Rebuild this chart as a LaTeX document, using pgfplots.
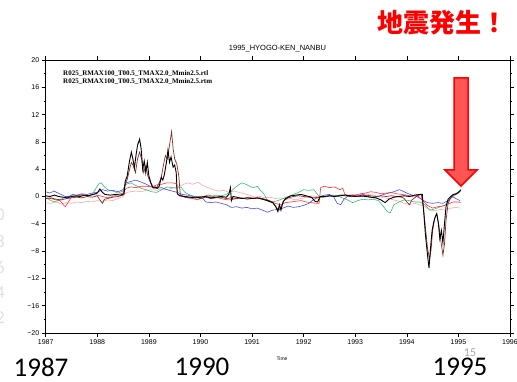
\documentclass[border=0pt]{standalone}
\usepackage{pgfplots}
\pgfplotsset{compat=1.18}
\usepackage{fontspec}
\setmainfont{Liberation Sans}
\newfontfamily\serifb{Liberation Serif}
\newfontfamily\calfont{Carlito}
\newfontfamily\cjk{Noto Sans CJK JP}
\definecolor{myblue}{RGB}{70,70,255}
\definecolor{mygreen}{RGB}{50,190,120}
\definecolor{myred}{RGB}{255,50,50}
\definecolor{mypink}{RGB}{255,165,165}
\definecolor{mybrown}{RGB}{140,45,35}
\definecolor{arrowfill}{RGB}{255,85,85}
\begin{document}
\begin{tikzpicture}
\path[use as bounding box] (0,0) rectangle (517pt,382pt);
\begin{axis}[
  at={(45.7pt,49pt)}, anchor=south west,
  scale only axis, width=464.3pt, height=273pt,
  xmin=1987, xmax=1996, ymin=-20, ymax=20,
  xtick={1987,1988,...,1996}, minor x tick num=1,
  ytick={-20,-16,...,20}, minor y tick num=1,
  tick align=outside,
  major tick length=4pt, minor tick length=2pt,
  axis line style={line width=0.9pt},
  every tick/.style={black, line width=0.6pt},
  /pgf/number format/assume math mode=true,
  xticklabel style={font=\fontsize{7}{8}\selectfont, yshift=1pt},
  yticklabel style={font=\fontsize{7}{8}\selectfont, xshift=1pt},
  xticklabel={\pgfmathprintnumber[1000 sep=,fixed]{\tick}},
  yticklabel={\ifdim\tick pt<0pt \char"2212\pgfmathparse{abs(\tick)}\pgfmathprintnumber{\pgfmathresult}\else\pgfmathprintnumber{\tick}\fi},
]
% pink
\addplot[mypink, line width=0.6pt] coordinates {
(1987.00,-0.9)(1987.10,-1.0)(1987.20,-0.8)(1987.30,-1.1)(1987.40,-0.9)(1987.50,-1.0)(1987.60,-0.8)(1987.70,-0.9)(1987.80,-0.7)(1987.90,-0.8)
(1988.00,-0.6)(1988.10,-0.7)(1988.20,-0.5)(1988.30,-0.6)(1988.40,-0.3)(1988.50,0.0)(1988.56,0.6)(1988.65,0.7)(1988.75,0.8)(1988.85,0.7)
(1988.95,0.9)(1989.05,1.0)(1989.15,0.9)(1989.25,1.1)(1989.35,1.0)(1989.45,1.2)(1989.55,1.4)(1989.65,1.7)(1989.75,2.0)(1989.85,1.8)
(1989.95,2.1)(1990.05,1.6)(1990.15,1.3)(1990.25,1.0)(1990.35,0.8)(1990.45,0.9)(1990.55,0.6)(1990.65,0.8)(1990.75,0.6)(1990.85,0.4)
(1990.95,0.2)(1991.05,-0.1)(1991.15,0.0)(1991.25,-0.2)(1991.35,-0.1)(1991.45,-0.3)(1991.55,-0.2)(1991.65,-0.4)(1991.75,-0.3)(1991.85,-0.5)
(1991.95,-0.3)(1992.05,-0.1)(1992.15,0.1)(1992.25,0.0)(1992.35,0.1)(1992.45,0.0)(1992.55,0.2)(1992.65,0.1)(1992.75,0.3)(1992.85,0.2)
(1992.95,0.3)(1993.05,0.2)(1993.15,0.4)(1993.25,0.3)(1993.35,0.2)(1993.45,0.0)(1993.55,-0.2)(1993.65,-0.3)(1993.75,-0.5)(1993.85,-0.7)
(1993.95,-1.0)(1994.05,-1.2)(1994.15,-1.0)(1994.25,-1.2)(1994.35,-1.5)(1994.45,-2.0)(1994.55,-2.1)(1994.65,-1.9)(1994.75,-2.0)(1994.85,-1.7)
(1994.95,-1.6)(1995.04,-1.7)};
% green
\addplot[mygreen, line width=0.6pt] coordinates {
(1987.00,-0.2)(1987.08,-0.5)(1987.16,-0.8)(1987.24,-0.6)(1987.32,-0.3)(1987.40,0.0)(1987.50,0.1)(1987.60,0.0)(1987.70,0.2)(1987.80,0.1)
(1987.90,0.3)(1987.96,1.0)(1988.02,1.8)(1988.08,2.0)(1988.14,1.4)(1988.20,1.0)(1988.30,0.8)(1988.40,0.5)(1988.50,0.8)(1988.56,1.8)
(1988.65,2.0)(1988.75,1.6)(1988.85,1.2)(1988.95,1.0)(1989.05,0.7)(1989.15,0.6)(1989.25,1.0)(1989.35,1.4)(1989.45,1.3)(1989.55,1.2)
(1989.62,1.4)(1989.70,0.6)(1989.80,0.2)(1989.90,0.0)(1990.00,0.0)(1990.10,-0.1)(1990.20,0.0)(1990.30,0.2)(1990.40,0.1)(1990.50,0.3)
(1990.60,0.8)(1990.70,1.5)(1990.80,2.0)(1990.88,1.8)(1990.95,1.5)(1991.02,1.3)(1991.10,1.5)(1991.15,1.0)(1991.22,0.5)(1991.30,-0.6)
(1991.40,-0.8)(1991.50,-0.6)(1991.60,-0.3)(1991.70,0.0)(1991.80,0.3)(1991.90,0.6)(1992.00,1.0)(1992.10,0.9)(1992.20,1.0)(1992.28,0.2)
(1992.35,-0.2)(1992.45,0.0)(1992.55,0.2)(1992.65,0.1)(1992.75,-0.2)(1992.85,-0.5)(1992.95,-0.9)(1993.05,-0.6)(1993.15,-0.4)(1993.25,-0.5)
(1993.35,-0.4)(1993.45,-0.6)(1993.55,-1.5)(1993.62,-2.2)(1993.68,-2.4)(1993.75,-1.2)(1993.85,-0.8)(1993.95,-0.5)(1994.05,-0.6)(1994.15,-0.8)
(1994.25,-0.8)(1994.35,-1.2)(1994.45,-2.0)(1994.55,-1.8)(1994.65,-1.5)(1994.75,-1.2)(1994.82,-0.5)(1994.90,0.0)(1994.97,0.4)(1995.03,0.9)};
% blue
\addplot[myblue, line width=0.6pt] coordinates {
(1987.00,0.7)(1987.08,0.5)(1987.16,0.8)(1987.24,0.5)(1987.30,0.3)(1987.38,0.0)(1987.46,0.0)(1987.52,0.3)(1987.60,0.2)(1987.70,0.4)
(1987.80,0.3)(1987.90,0.5)(1988.00,0.6)(1988.10,1.0)(1988.20,0.8)(1988.30,0.9)(1988.40,0.7)(1988.50,1.0)(1988.56,2.0)(1988.65,2.2)
(1988.75,2.4)(1988.85,2.1)(1988.95,1.8)(1989.05,1.4)(1989.15,1.2)(1989.25,1.3)(1989.35,1.0)(1989.45,0.8)(1989.55,0.6)(1989.65,0.3)
(1989.75,0.2)(1989.85,0.0)(1989.95,-0.1)(1990.05,-0.3)(1990.10,-0.8)(1990.20,-0.9)(1990.30,-0.8)(1990.40,-1.0)(1990.50,-1.2)(1990.60,-1.6)
(1990.70,-1.5)(1990.80,-1.7)(1990.90,-1.6)(1991.00,-1.8)(1991.10,-1.7)(1991.20,-2.0)(1991.30,-2.3)(1991.40,-2.0)(1991.50,-1.9)(1991.60,-1.7)
(1991.70,-1.4)(1991.80,-1.6)(1991.90,-1.5)(1992.00,-1.3)(1992.10,-1.0)(1992.20,-0.4)(1992.30,-0.1)(1992.40,0.2)(1992.50,0.3)(1992.58,0.0)
(1992.65,-1.0)(1992.72,-1.2)(1992.78,-0.4)(1992.85,0.0)(1992.95,0.2)(1993.05,0.0)(1993.15,0.3)(1993.25,0.0)(1993.35,-0.2)(1993.45,0.0)
(1993.55,0.3)(1993.65,0.5)(1993.75,0.7)(1993.85,1.0)(1993.92,0.8)(1994.00,0.5)(1994.10,0.2)(1994.20,0.0)(1994.30,-0.5)(1994.40,-0.9)
(1994.50,-1.0)(1994.60,-0.9)(1994.70,-1.0)(1994.80,-0.6)(1994.88,0.0)(1994.95,-0.3)(1995.03,-0.6)};
% red
\addplot[myred, line width=0.6pt] coordinates {
(1987.00,-0.2)(1987.10,-0.3)(1987.20,-0.5)(1987.28,-0.6)(1987.34,-1.2)(1987.38,-1.5)(1987.44,-0.8)(1987.50,-0.1)(1987.60,0.1)(1987.70,0.3)
(1987.80,0.1)(1987.90,0.3)(1988.00,0.2)(1988.10,0.0)(1988.20,-0.2)(1988.30,0.0)(1988.40,0.3)(1988.50,0.5)(1988.56,1.2)(1988.65,1.4)
(1988.75,1.3)(1988.85,1.5)(1988.95,1.5)(1989.05,1.4)(1989.15,1.7)(1989.25,1.8)(1989.35,2.0)(1989.45,2.0)(1989.53,1.9)(1989.56,0.3)
(1989.65,0.0)(1989.75,-0.2)(1989.85,-0.3)(1989.95,-0.5)(1990.05,0.0)(1990.15,0.2)(1990.25,0.0)(1990.35,-0.2)(1990.45,-0.4)(1990.55,-0.5)
(1990.65,-0.4)(1990.75,-0.2)(1990.85,-0.3)(1990.95,-0.1)(1991.05,-0.3)(1991.15,-0.2)(1991.25,-0.5)(1991.35,-0.8)(1991.45,-1.0)(1991.55,-1.2)
(1991.65,-0.9)(1991.75,-0.8)(1991.85,-0.7)(1991.95,-0.6)(1992.05,-0.8)(1992.15,-0.9)(1992.25,-1.0)(1992.30,-1.0)(1992.33,1.3)(1992.40,1.5)
(1992.50,1.3)(1992.60,1.4)(1992.70,1.0)(1992.76,1.2)(1992.80,0.3)(1992.90,0.1)(1993.00,0.2)(1993.10,0.4)(1993.20,0.5)(1993.30,0.7)
(1993.40,0.6)(1993.50,0.4)(1993.60,0.5)(1993.70,0.6)(1993.80,0.4)(1993.90,0.3)(1994.00,0.2)(1994.10,0.0)(1994.20,0.2)(1994.30,-0.5)
(1994.40,-1.3)(1994.50,-1.7)(1994.60,-1.5)(1994.70,-1.4)(1994.80,-1.1)(1994.90,-0.8)(1995.00,-0.8)(1995.04,-0.9)};
% brown
\addplot[mybrown, line width=0.7pt] coordinates {
(1987.00,-0.3)(1987.10,-0.2)(1987.20,-0.4)(1987.30,-0.5)(1987.40,-0.3)(1987.50,-0.2)(1987.60,-0.1)(1987.70,-0.2)(1987.80,0.0)(1987.90,-0.1)
(1988.00,0.1)(1988.05,-0.5)(1988.10,-1.0)(1988.14,-0.4)(1988.20,-0.3)(1988.30,-0.1)(1988.40,0.0)(1988.50,0.2)(1988.54,1.8)(1988.58,2.5)
(1988.62,3.8)(1988.66,5.0)(1988.70,4.5)(1988.74,3.5)(1988.78,5.5)(1988.82,6.5)(1988.86,5.5)(1988.90,3.5)(1988.94,4.5)(1988.98,3.0)
(1989.02,2.2)(1989.06,1.5)(1989.10,1.2)(1989.15,1.3)(1989.20,2.0)(1989.24,2.8)(1989.28,4.5)(1989.32,6.0)(1989.36,5.5)(1989.40,7.5)
(1989.44,9.5)(1989.47,7.0)(1989.50,5.5)(1989.54,4.8)(1989.58,3.0)(1989.61,0.2)(1989.70,-0.1)(1989.80,-0.2)(1989.90,-0.1)(1990.00,-0.3)
(1990.10,-0.1)(1990.20,-0.3)(1990.30,-0.2)(1990.40,-0.1)(1990.50,-0.3)(1990.60,-0.2)(1990.70,-0.3)(1990.80,-0.2)(1990.90,-0.4)(1991.00,-0.3)
(1991.10,-0.2)(1991.20,-0.3)(1991.30,-0.5)(1991.40,-0.8)(1991.47,-1.6)(1991.52,-2.0)(1991.57,-1.4)(1991.62,-0.6)(1991.70,-0.2)(1991.80,0.0)
(1991.90,0.1)(1992.00,0.0)(1992.10,-0.1)(1992.20,-0.2)(1992.30,-0.1)(1992.40,0.0)(1992.50,0.1)(1992.60,0.0)(1992.70,0.2)(1992.80,0.1)
(1992.90,0.0)(1993.00,0.1)(1993.10,0.0)(1993.20,0.2)(1993.30,0.1)(1993.40,0.0)(1993.50,0.1)(1993.60,0.0)(1993.70,0.1)(1993.80,0.0)
(1993.90,-0.1)(1993.95,-0.3)(1994.00,-0.8)(1994.05,-1.2)(1994.10,-0.5)(1994.20,0.1)(1994.28,0.3)(1994.32,-1.5)(1994.36,-4.5)(1994.40,-7.5)
(1994.44,-9.2)(1994.47,-7.8)(1994.50,-5.0)(1994.54,-3.2)(1994.58,-2.6)(1994.62,-4.2)(1994.66,-6.5)(1994.70,-8.6)(1994.73,-7.0)(1994.76,-3.5)
(1994.80,-1.0)(1994.85,-0.2)(1994.90,0.2)(1994.95,0.3)(1995.00,0.5)(1995.04,0.8)};
% black
\addplot[black, line width=0.9pt] coordinates {
(1987.00,0.1)(1987.08,0.0)(1987.17,0.2)(1987.25,0.0)(1987.33,-0.1)(1987.42,-0.2)(1987.50,0.0)(1987.58,0.1)(1987.67,0.0)(1987.75,0.2)
(1987.83,0.1)(1987.92,0.3)(1988.00,0.5)(1988.05,1.1)(1988.10,0.6)(1988.15,0.3)(1988.25,0.2)(1988.35,0.3)(1988.45,0.2)(1988.52,0.4)
(1988.54,2.2)(1988.58,3.0)(1988.62,5.0)(1988.66,6.5)(1988.69,5.5)(1988.72,4.2)(1988.75,6.0)(1988.78,7.5)(1988.82,8.4)(1988.85,7.0)
(1988.88,4.0)(1988.91,5.2)(1988.94,3.5)(1988.97,5.0)(1989.00,3.0)(1989.04,2.0)(1989.08,1.3)(1989.12,1.4)(1989.16,1.2)(1989.20,1.5)
(1989.24,2.8)(1989.27,2.4)(1989.30,3.2)(1989.34,5.0)(1989.37,6.8)(1989.40,5.0)(1989.43,5.8)(1989.47,4.3)(1989.50,4.6)(1989.53,3.5)
(1989.55,0.4)(1989.60,0.1)(1989.70,0.0)(1989.80,-0.1)(1989.90,-0.2)(1990.00,-0.1)(1990.10,0.0)(1990.20,-0.2)(1990.30,-0.1)(1990.40,0.0)
(1990.50,-0.1)(1990.55,0.3)(1990.58,1.3)(1990.60,-0.6)(1990.63,0.0)(1990.70,-0.1)(1990.80,-0.3)(1990.90,-0.2)(1991.00,-0.3)(1991.10,-0.2)
(1991.20,-0.4)(1991.30,-0.6)(1991.40,-0.9)(1991.46,-1.5)(1991.50,-2.2)(1991.53,-1.2)(1991.56,-2.0)(1991.60,-0.8)(1991.65,-0.3)(1991.75,0.1)
(1991.85,0.2)(1991.95,0.3)(1992.05,0.1)(1992.15,-0.1)(1992.22,-0.7)(1992.27,-0.8)(1992.32,0.0)(1992.40,0.0)(1992.50,0.1)(1992.60,0.0)
(1992.70,0.1)(1992.80,0.2)(1992.90,0.1)(1993.00,0.0)(1993.10,0.1)(1993.20,0.0)(1993.30,-0.1)(1993.40,-0.2)(1993.50,-0.5)(1993.58,-0.9)
(1993.65,-0.4)(1993.75,-0.1)(1993.85,0.0)(1993.95,0.1)(1994.05,0.0)(1994.15,0.2)(1994.25,0.3)(1994.30,0.3)(1994.33,-2.5)(1994.36,-5.5)
(1994.40,-8.5)(1994.43,-10.5)(1994.46,-7.5)(1994.49,-5.0)(1994.52,-3.8)(1994.55,-3.0)(1994.58,-2.5)(1994.61,-3.8)(1994.64,-6.2)(1994.67,-5.0)
(1994.70,-6.8)(1994.73,-4.0)(1994.76,-1.5)(1994.80,-0.4)(1994.85,0.0)(1994.90,0.3)(1994.95,0.4)(1995.00,0.6)(1995.05,1.0)};
\end{axis}
% title and annotations
\node[font=\fontsize{7.5}{8}\selectfont] at (277.5pt,333pt) {1995\_HYOGO-KEN\_NANBU};
\node[font=\serifb\bfseries\fontsize{7}{8}\selectfont, anchor=west, inner sep=0pt] at (63pt,308pt) {R025\_RMAX100\_T00.5\_TMAX2.0\_Mmin2.5.rtl};
\node[font=\serifb\bfseries\fontsize{7}{8}\selectfont, anchor=west, inner sep=0pt] at (63pt,300pt) {R025\_RMAX100\_T00.5\_TMAX2.0\_Mmin2.5.rtm};
\node[font=\fontsize{5}{6}\selectfont] at (282pt,23pt) {Time};
\node[font=\cjk\bfseries\fontsize{26}{28}\selectfont, text=red, anchor=east, inner sep=0pt] at (508pt,359.5pt) {地震発生！};
\fill[arrowfill, draw=red, line width=1.5pt, line join=miter]
  (454pt,304pt) -- (468pt,304pt) -- (468pt,212pt) -- (477pt,212pt) -- (461pt,196pt) -- (445pt,212pt) -- (454pt,212pt) -- cycle;
\node[font=\calfont\fontsize{27}{30}\selectfont, inner sep=0pt] at (41pt,15pt) {1987};
\node[font=\calfont\fontsize{27}{30}\selectfont, inner sep=0pt] at (202pt,15pt) {1990};
\node[font=\calfont\fontsize{27}{30}\selectfont, inner sep=0pt] at (460pt,15pt) {1995};
\node[font=\calfont\fontsize{12}{14}\selectfont, text=gray!70, inner sep=0pt] at (470pt,29pt) {15};
\foreach \d/\yy in {0/167,8/141,6/115,4/89,2/64} {
  \node[font=\calfont\fontsize{18}{20}\selectfont, text=gray!25, anchor=east, inner sep=0pt] at (5pt,\yy pt) {\d};
}
\end{tikzpicture}
\end{document}
